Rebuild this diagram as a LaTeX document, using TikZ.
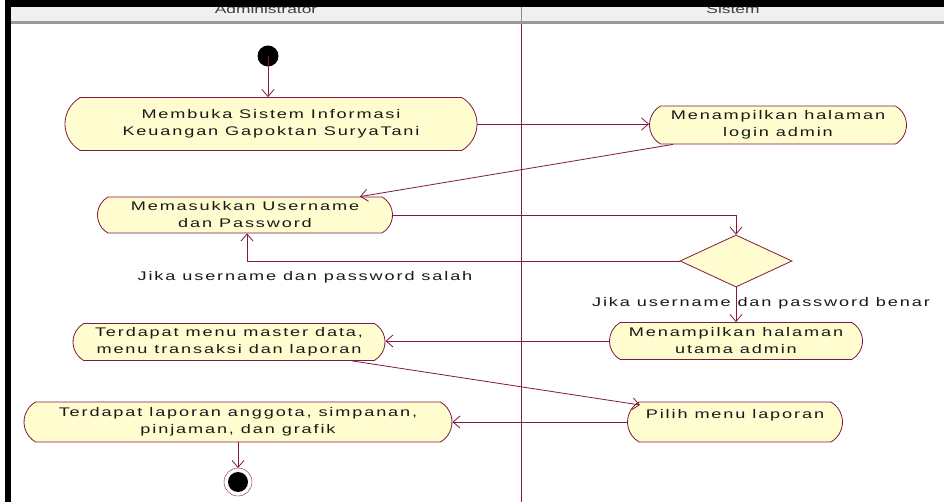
\documentclass[tikz,border=0pt]{standalone}
\usepackage{fontspec}
\setmainfont{Liberation Sans}[FakeStretch=1.45]
\newfontfamily\rosefont{Liberation Sans}[FakeStretch=1.45,LetterSpace=15]
\usetikzlibrary{shapes.misc,shapes.geometric,arrows.meta,calc}
\definecolor{garis}{RGB}{128,24,64}
\definecolor{isi}{RGB}{255,253,208}
\definecolor{kepala}{RGB}{240,240,240}
\tikzset{
  aksi/.style={rounded rectangle,rounded rectangle arc length=120,draw=garis,line width=0.8pt,fill=isi,inner sep=0pt,align=center,font=\rosefont\fontsize{12.5}{17}\selectfont,text=black!90},
  putusan/.style={diamond,draw=garis,line width=0.8pt,fill=isi,inner sep=0pt,minimum width=112pt,minimum height=52pt},
  alur/.style={draw=garis,line width=0.8pt,-{Straight Barb[length=7pt,width=12pt]}},
  ket/.style={font=\rosefont\fontsize{12.5}{17}\selectfont,text=black!90}
}
\begin{document}
\begin{tikzpicture}[x=1pt,y=-1pt]
      \useasboundingbox (0,0) rectangle (944,502);
      % swimlane header
      \fill[kepala] (11,7) rectangle (944,21);
      \node[font=\fontsize{12}{14}\selectfont,text=black!75] (lajur1) at (266,9.5) {Administrator};
      \node[font=\fontsize{12}{14}\selectfont,text=black!75] (lajur2) at (733,9.5) {Sistem};
      \fill[black] (5,0) rectangle (944,7.5);
      \fill[black] (5,0) rectangle (11,502);
      \fill[black!40] (11,21) rectangle (944,24);
      \draw[black!45] (521,7.5) -- (521,21);
      \draw[garis,line width=0.8pt] (521,24) -- (521,502);
      % activities
      \fill[black] (268,56) circle (10.5) coordinate (mulai);
      \node[aksi,minimum width=412pt,minimum height=53pt] (buka) at (271,124) {Membuka Sistem Informasi\\Keuangan Gapoktan SuryaTani};
      \node[aksi,minimum width=257pt,minimum height=38pt] (login) at (778,125) {Menampilkan halaman\\login admin};
      \node[aksi,minimum width=295pt,minimum height=36pt] (masuk) at (245,215) {Memasukkan Username\\dan Password};
      \node[putusan] (cek) at (736,261) {};
      \node[aksi,minimum width=253pt,minimum height=37pt] (utama) at (736,341) {Menampilkan halaman\\utama admin};
      \node[aksi,minimum width=312pt,minimum height=37pt] (menu) at (229,342) {Terdapat menu master data,\\menu transaksi dan laporan};
      \node[aksi,minimum width=215pt,minimum height=40pt] (pilih) at (735,422) {Pilih menu laporan\\\mbox{}};
      \node[aksi,minimum width=428pt,minimum height=40pt] (laporan) at (238,422) {Terdapat laporan anggota, simpanan,\\pinjaman, dan grafik};
      \draw[garis,fill=white] (238,482) circle (14);
      \fill[black] (238,482) circle (10) coordinate (selesai);
      % guards
      \node[ket] (salah) at (305,277) {Jika username dan password salah};
      \node[ket] (benar) at (761,303) {Jika username dan password benar};
      % flows
      \draw[alur] (mulai) -- (mulai |- buka.north);
      \draw[alur] (buka.east) -- (buka.east -| login.west);
      \draw[alur] ($(login.south)+(-105,0)$) -- ($(masuk.north)+(115,0)$);
      \draw[alur] (masuk.east) -| (cek.north);
      \draw[alur] (cek.west) -| ($(masuk.south)+(2,0)$);
      \draw[alur] (cek.south) -- (utama.north);
      \draw[alur] (utama.west) -- (utama.west -| menu.east);
      \draw[alur] ($(menu.south)+(123,0)$) -- ($(pilih.center)+(-95,-17)$);
      \draw[alur] (pilih.west) -- (pilih.west -| laporan.east);
      \draw[alur] (laporan.south) -- ($(selesai)+(0,-14)$);
\end{tikzpicture}
\end{document}
